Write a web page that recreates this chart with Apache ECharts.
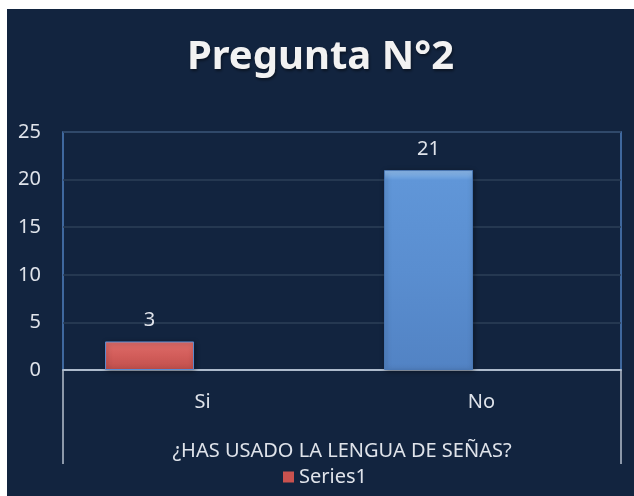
<!DOCTYPE html>
<html>
<head>
<meta charset="utf-8"/>
<title>Pregunta N°2</title>
<script src="https://cdn.jsdelivr.net/npm/echarts@6/dist/echarts.min.js"></script>
<style>
  html, body { margin: 0; padding: 0; background: #ffffff; }
  #main { position: absolute; left: 7px; top: 9px; width: 627px; height: 487px; }
</style>
</head>
<body>
<div id="main"></div>
<script type="text/javascript">
// datos del grafico
var categorias = ['Si', 'No'];
var valores = [3, 21];
var vacia = [null, null]; // segunda serie vacia (ocupa el hueco a la derecha de cada barra)
var colores = [
  ['#f39c9a', '#dd6b68', '#d25d5a', '#c04f4c'],
  ['#95c2f2', '#6096d8', '#5a8ed0', '#5283c4']
];

function degradado(c) {
  return new echarts.graphic.LinearGradient(0, 0, 0, 1, [
    { offset: 0, color: c[0] },
    { offset: 0.05, color: c[1] },
    { offset: 0.5, color: c[2] },
    { offset: 1, color: c[3] }
  ]);
}

var texto = '#dfe3ea';
var fuente = 'Noto Sans';

var myChart = echarts.init(document.getElementById('main'));
var option = {
  backgroundColor: '#12243f',
  title: {
    text: 'Pregunta N°2',
    left: 'center',
    top: 24,
    textStyle: {
      color: '#f2f2f2', fontSize: 40, fontWeight: 'bold', fontFamily: fuente,
      textShadowColor: 'rgba(0,0,0,0.45)', textShadowBlur: 3, textShadowOffsetX: 1, textShadowOffsetY: 2
    }
  },
  legend: {
    data: ['Series1'],
    left: 271,
    bottom: 4,
    itemWidth: 11,
    itemHeight: 11,
    itemGap: 4,
    icon: 'rect',
    textStyle: { color: texto, fontSize: 20, fontFamily: fuente }
  },
  grid: {
    left: 56, right: 13, top: 123, bottom: 126,
    show: true, borderColor: '#4f7fbf', borderWidth: 1.5
  },
  xAxis: {
    type: 'category',
    data: categorias,
    name: '¿HAS USADO LA LENGUA DE SEÑAS?',
    nameLocation: 'middle',
    nameGap: 71,
    nameTextStyle: { color: texto, fontSize: 20, fontFamily: fuente },
    axisLine: { lineStyle: { color: '#aebbcc', width: 2 } },
    axisTick: { show: false },
    axisLabel: { color: texto, fontSize: 20, fontFamily: fuente, margin: 22 }
  },
  yAxis: {
    type: 'value',
    min: 0, max: 25, interval: 5,
    axisLine: { show: false },
    axisTick: { show: false },
    axisLabel: { color: texto, fontSize: 20, fontFamily: fuente, margin: 22 },
    splitLine: { lineStyle: { color: '#2d3f58', width: 1.5 } }
  },
  series: [
    {
      name: 'Series1',
      type: 'bar',
      barWidth: 89,
      barGap: '19%',
      itemStyle: { color: '#c9524f' },
      data: valores.map(function (v, i) {
        return {
          value: v,
          itemStyle: {
            color: degradado(colores[i]),
            borderColor: i === 0 ? '#5b8bd0' : '#4a78b5',
            borderWidth: 1,
            shadowColor: 'rgba(0,0,0,0.45)',
            shadowBlur: 5,
            shadowOffsetX: 1,
            shadowOffsetY: 1
          }
        };
      }),
      label: {
        show: true, position: 'top', distance: 11,
        color: texto, fontSize: 20, fontFamily: fuente
      }
    },
    {
      name: 'Series2',
      type: 'bar',
      barWidth: 89,
      data: vacia
    }
  ],
  graphic: [
    { type: 'line', shape: { x1: 56, y1: 361, x2: 56, y2: 455 }, style: { stroke: '#8c98a9', lineWidth: 2 } },
    { type: 'line', shape: { x1: 614, y1: 361, x2: 614, y2: 455 }, style: { stroke: '#8c98a9', lineWidth: 2 } }
  ]
};
myChart.setOption(option);
</script>
</body>
</html>
